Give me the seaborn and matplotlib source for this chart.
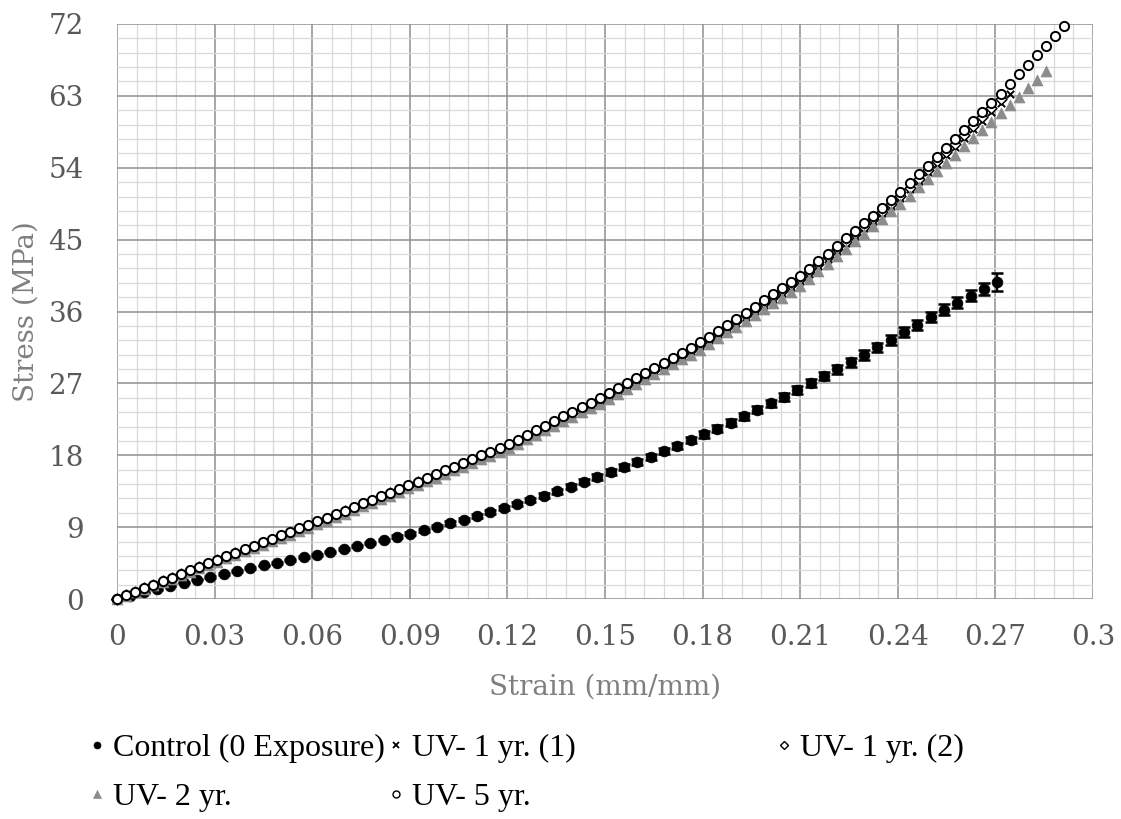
import matplotlib
matplotlib.use("Agg")
import matplotlib.pyplot as plt
from matplotlib.lines import Line2D
from matplotlib.ticker import MultipleLocator
import pandas as pd
import seaborn as sns

# ---- data -------------------------------------------------------------
control_strain = [
    0.0, 0.0041, 0.0082, 0.0123, 0.0164, 0.0205, 0.0246, 0.0287, 0.0328, 0.0369,
    0.041, 0.0451, 0.0492, 0.0533, 0.0574, 0.0615, 0.0656, 0.0697, 0.0738, 0.0779,
    0.082, 0.0861, 0.0902, 0.0943, 0.0984, 0.1025, 0.1066, 0.1107, 0.1148, 0.1189,
    0.123, 0.1271, 0.1312, 0.1353, 0.1394, 0.1435, 0.1476, 0.1517, 0.1558, 0.1599,
    0.164, 0.1681, 0.1722, 0.1763, 0.1804, 0.1845, 0.1886, 0.1927, 0.1968, 0.2009,
    0.205, 0.2091, 0.2132, 0.2173, 0.2214, 0.2255, 0.2296, 0.2337, 0.2378, 0.2419,
    0.246, 0.2501, 0.2542, 0.2583, 0.2624, 0.2665, 0.2706,
]
control_stress = [
    0.00, 0.42, 0.83, 1.23, 1.63, 2.02, 2.40, 2.77, 3.13, 3.49,
    3.85, 4.20, 4.54, 4.88, 5.21, 5.55, 5.90, 6.26, 6.62, 6.99,
    7.38, 7.78, 8.19, 8.62, 9.05, 9.50, 9.95, 10.42, 10.90, 11.38,
    11.88, 12.40, 12.94, 13.50, 14.08, 14.68, 15.28, 15.90, 16.53, 17.17,
    17.82, 18.49, 19.18, 19.88, 20.60, 21.34, 22.10, 22.88, 23.68, 24.50,
    25.33, 26.18, 27.04, 27.90, 28.76, 29.62, 30.55, 31.50, 32.45, 33.40,
    34.35, 35.30, 36.22, 37.12, 38.00, 38.85, 39.70,
]
control_err = [
    0.02, 0.03, 0.04, 0.05, 0.06, 0.07, 0.08, 0.08, 0.09, 0.10,
    0.10, 0.11, 0.12, 0.12, 0.13, 0.14, 0.14, 0.15, 0.16, 0.16,
    0.17, 0.18, 0.19, 0.19, 0.20, 0.21, 0.22, 0.23, 0.24, 0.25,
    0.26, 0.27, 0.28, 0.29, 0.30, 0.31, 0.32, 0.33, 0.34, 0.35,
    0.36, 0.37, 0.38, 0.39, 0.40, 0.41, 0.42, 0.44, 0.45, 0.46,
    0.48, 0.49, 0.51, 0.52, 0.54, 0.55, 0.57, 0.58, 0.60, 0.62,
    0.64, 0.66, 0.68, 0.70, 0.73, 0.78, 1.15,
]

uv_strain = [
    0.0, 0.0028, 0.0056, 0.0084, 0.0112, 0.014, 0.0168, 0.0196, 0.0224, 0.0252,
    0.028, 0.0308, 0.0336, 0.0364, 0.0392, 0.042, 0.0448, 0.0476, 0.0504, 0.0532,
    0.056, 0.0588, 0.0616, 0.0644, 0.0672, 0.07, 0.0728, 0.0756, 0.0784, 0.0812,
    0.084, 0.0868, 0.0896, 0.0924, 0.0952, 0.098, 0.1008, 0.1036, 0.1064, 0.1092,
    0.112, 0.1148, 0.1176, 0.1204, 0.1232, 0.126, 0.1288, 0.1316, 0.1344, 0.1372,
    0.14, 0.1428, 0.1456, 0.1484, 0.1512, 0.154, 0.1568, 0.1596, 0.1624, 0.1652,
    0.168, 0.1708, 0.1736, 0.1764, 0.1792, 0.182, 0.1848, 0.1876, 0.1904, 0.1932,
    0.196, 0.1988, 0.2016, 0.2044, 0.2072, 0.21, 0.2128, 0.2156, 0.2184, 0.2212,
    0.224, 0.2268, 0.2296, 0.2324, 0.2352, 0.238, 0.2408, 0.2436, 0.2464, 0.2492,
    0.252, 0.2548, 0.2576, 0.2604, 0.2632, 0.266, 0.2688, 0.2716, 0.2744, 0.2772,
    0.28, 0.2828, 0.2856, 0.2884, 0.2912,
]
uv1a_stress = [
    0.00, 0.44, 0.88, 1.31, 1.75, 2.18, 2.62, 3.06, 3.49, 3.93,
    4.37, 4.80, 5.23, 5.66, 6.09, 6.52, 6.95, 7.38, 7.80, 8.24,
    8.66, 9.09, 9.54, 9.98, 10.43, 10.89, 11.34, 11.79, 12.24, 12.69,
    13.14, 13.59, 14.04, 14.50, 14.96, 15.42, 15.88, 16.35, 16.81, 17.27,
    17.73, 18.19, 18.66, 19.13, 19.70, 20.27, 20.84, 21.41, 21.98, 22.55,
    23.12, 23.69, 24.26, 24.83, 25.42, 26.05, 26.67, 27.30, 27.92, 28.55,
    29.17, 29.80, 30.42, 31.05, 31.67, 32.38, 33.13, 33.87, 34.61, 35.35,
    36.09, 36.84, 37.58, 38.32, 39.06, 39.80, 40.74, 41.69, 42.63, 43.57,
    44.52, 45.46, 46.40, 47.35, 48.29, 49.23, 50.21, 51.28, 52.36, 53.43,
    54.50, 55.58, 56.65, 57.72, 58.80, 59.87, 60.94, 62.05, 63.18,
]
uv1b_stress = [
    0.00, 0.44, 0.88, 1.32, 1.76, 2.20, 2.64, 3.08, 3.52, 3.95,
    4.39, 4.83, 5.27, 5.70, 6.14, 6.57, 7.00, 7.43, 7.86, 8.30,
    8.73, 9.16, 9.61, 10.06, 10.51, 10.96, 11.41, 11.86, 12.32, 12.77,
    13.22, 13.67, 14.13, 14.59, 15.05, 15.51, 15.98, 16.45, 16.91, 17.38,
    17.84, 18.28, 18.74, 19.22, 19.79, 20.36, 20.94, 21.51, 22.09, 22.66,
    23.23, 23.80, 24.38, 24.95, 25.55, 26.18, 26.81, 27.44, 28.07, 28.70,
    29.33, 29.96, 30.59, 31.22, 31.85, 32.56, 33.31, 34.06, 34.81, 35.55,
    36.30, 37.05, 37.79, 38.54, 39.28, 40.03, 40.97, 41.91, 42.85, 43.79,
    44.73, 45.67, 46.61, 47.56, 48.50, 49.44, 50.42, 51.52, 52.62, 53.72,
    54.82, 55.92, 57.02, 58.12, 59.22, 60.32, 61.42, 62.57,
]
uv2_stress = [
    0.00, 0.42, 0.85, 1.27, 1.70, 2.12, 2.55, 2.97, 3.40, 3.82,
    4.25, 4.67, 5.10, 5.52, 5.95, 6.37, 6.80, 7.22, 7.64, 8.07,
    8.49, 8.92, 9.36, 9.80, 10.25, 10.70, 11.15, 11.60, 12.04, 12.49,
    12.94, 13.39, 13.84, 14.29, 14.75, 15.21, 15.66, 16.12, 16.58, 17.04,
    17.49, 17.95, 18.41, 18.88, 19.44, 20.00, 20.56, 21.12, 21.68, 22.24,
    22.80, 23.36, 23.92, 24.48, 25.06, 25.68, 26.30, 26.91, 27.53, 28.14,
    28.76, 29.38, 29.99, 30.61, 31.22, 31.92, 32.65, 33.38, 34.10, 34.83,
    35.56, 36.29, 37.02, 37.74, 38.47, 39.20, 40.13, 41.07, 42.00, 42.93,
    43.87, 44.80, 45.73, 46.67, 47.60, 48.53, 49.49, 50.52, 51.55, 52.57,
    53.60, 54.63, 55.65, 56.68, 57.71, 58.73, 59.76, 60.80, 61.86, 62.92,
    63.98, 65.04, 66.10,
]
uv5_stress = [
    0.00, 0.45, 0.90, 1.34, 1.79, 2.24, 2.69, 3.14, 3.58, 4.03,
    4.48, 4.92, 5.36, 5.79, 6.23, 6.66, 7.09, 7.53, 7.96, 8.40,
    8.83, 9.26, 9.71, 10.16, 10.61, 11.07, 11.52, 11.97, 12.43, 12.88,
    13.33, 13.78, 14.24, 14.70, 15.17, 15.63, 16.10, 16.57, 17.03, 17.50,
    17.97, 18.43, 18.90, 19.38, 19.96, 20.54, 21.12, 21.70, 22.28, 22.86,
    23.43, 24.01, 24.59, 25.17, 25.77, 26.41, 27.04, 27.68, 28.31, 28.95,
    29.58, 30.22, 30.85, 31.49, 32.12, 32.84, 33.60, 34.35, 35.11, 35.86,
    36.62, 37.38, 38.13, 38.89, 39.64, 40.40, 41.35, 42.30, 43.26, 44.21,
    45.16, 46.11, 47.06, 48.02, 48.97, 49.92, 50.92, 52.04, 53.16, 54.28,
    55.40, 56.52, 57.64, 58.76, 59.88, 61.00, 62.12, 63.29, 64.49, 65.69,
    66.89, 68.09, 69.29, 70.49, 71.70,
]

series_names = ["Control (0 Exposure)", "UV- 1 yr. (1)", "UV- 1 yr. (2)",
                "UV- 2 yr.", "UV- 5 yr."]
x_ticks = [0, 0.03, 0.06, 0.09, 0.12, 0.15, 0.18, 0.21, 0.24, 0.27, 0.3]
x_tick_labels = ["0", "0.03", "0.06", "0.09", "0.12", "0.15", "0.18",
                 "0.21", "0.24", "0.27", "0.3"]
y_ticks = [0, 9, 18, 27, 36, 45, 54, 63, 72]
x_label = "Strain (mm/mm)"
y_label = "Stress (MPa)"

# ---- style ------------------------------------------------------------
sns.set_style("white")
plt.rcParams["font.family"] = ["DejaVu Serif", "DejaVu Sans"]

TICK_COLOR = "#595959"
LABEL_COLOR = "#7f7f7f"
GRAY = "#8c8c8c"
W, H = 1121, 819

fig = plt.figure(figsize=(W / 100, H / 100), dpi=100)
ax = fig.add_axes([117 / W, 1 - 599 / H, 976 / W, 575 / H])

frames = {}
uv_sets = [(series_names[1], uv1a_stress), (series_names[2], uv1b_stress),
           (series_names[3], uv2_stress), (series_names[4], uv5_stress)]
frames[series_names[0]] = pd.DataFrame({"strain": control_strain,
                                        "stress": control_stress})
for name, vals in uv_sets:
    frames[name] = pd.DataFrame({"strain": uv_strain[:len(vals)], "stress": vals})

# control: error bars then filled dots
ax.errorbar(control_strain, control_stress, yerr=control_err, fmt="none",
            ecolor="black", elinewidth=1.7, capsize=4.5, capthick=1.8,
            zorder=3, clip_on=False)
sns.scatterplot(data=frames[series_names[0]], x="strain", y="stress", ax=ax,
                marker="o", s=60, color="black", edgecolor="black",
                linewidth=0.5, zorder=4, clip_on=False)
# UV-1 yr. (1): small crosses
sns.scatterplot(data=frames[series_names[1]], x="strain", y="stress", ax=ax,
                marker="x", s=28, color="black", linewidth=1.4,
                zorder=5, clip_on=False)
# UV-1 yr. (2): open diamonds
sns.scatterplot(data=frames[series_names[2]], x="strain", y="stress", ax=ax,
                marker="D", s=30, facecolor="white", edgecolor="black",
                linewidth=1.1, zorder=6, clip_on=False)
# UV-2 yr.: gray triangles
sns.scatterplot(data=frames[series_names[3]], x="strain", y="stress", ax=ax,
                marker="^", s=62, color=GRAY, edgecolor=GRAY,
                linewidth=0.5, zorder=7, clip_on=False)
# UV-5 yr.: open circles
sns.scatterplot(data=frames[series_names[4]], x="strain", y="stress", ax=ax,
                marker="o", s=44, facecolor="white", edgecolor="black",
                linewidth=1.4, zorder=8, clip_on=False)

# ---- axes -------------------------------------------------------------
ax.set_xlim(0, 0.3)
ax.set_ylim(0, 72)
ax.set_xticks(x_ticks)
ax.set_xticklabels(x_tick_labels)
ax.set_yticks(y_ticks)
ax.set_yticklabels([str(v) for v in y_ticks])
ax.xaxis.set_minor_locator(MultipleLocator(0.006))
ax.yaxis.set_minor_locator(MultipleLocator(1.8))
ax.grid(which="major", color="#8f8f8f", linewidth=1.1)
ax.grid(which="minor", color="#d9d9d9", linewidth=0.9)
ax.set_axisbelow(True)
for sp in ax.spines.values():
    sp.set_visible(False)
ax.tick_params(which="both", length=0, colors=TICK_COLOR, labelsize=20)
ax.tick_params(axis="x", pad=18)
ax.tick_params(axis="y", pad=24)
ax.set_xlabel(x_label, fontsize=20, color=LABEL_COLOR, labelpad=16)
ax.set_ylabel(y_label, fontsize=20, color=LABEL_COLOR, labelpad=6)

# ---- legend: one entry per slot, laid out on two rows -----------------
def handle(marker, ms, face, edge, mew):
    return Line2D([], [], linestyle="none", marker=marker, markersize=ms,
                  markerfacecolor=face, markeredgecolor=edge, markeredgewidth=mew)

h_control = handle("o", 5, "black", "black", 0.5)
h_uv1a = handle("x", 4.5, "black", "black", 1.3)
h_uv1b = handle("D", 4, "white", "black", 1.0)
h_uv2 = handle("^", 6, GRAY, GRAY, 0.5)
h_uv5 = handle("o", 5, "white", "black", 1.0)

LEG_FONT = 23
slots = [
    (h_control, series_names[0], 89, 748),
    (h_uv1a, series_names[1], 388, 748),
    (h_uv1b, series_names[2], 776, 748),
    (h_uv2, series_names[3], 89, 797),
    (h_uv5, series_names[4], 388, 797),
]
for h, label, xpx, ypx in slots:
    leg = fig.legend([h], [label], loc="center left",
                     bbox_to_anchor=(xpx / W, 1 - ypx / H),
                     frameon=False, prop={"family": "Liberation Serif",
                                          "size": LEG_FONT},
                     handlelength=0.5, handletextpad=0.25, borderpad=0,
                     borderaxespad=0)
    for t in leg.get_texts():
        t.set_color("black")

fig.savefig("out.png", dpi=100)
